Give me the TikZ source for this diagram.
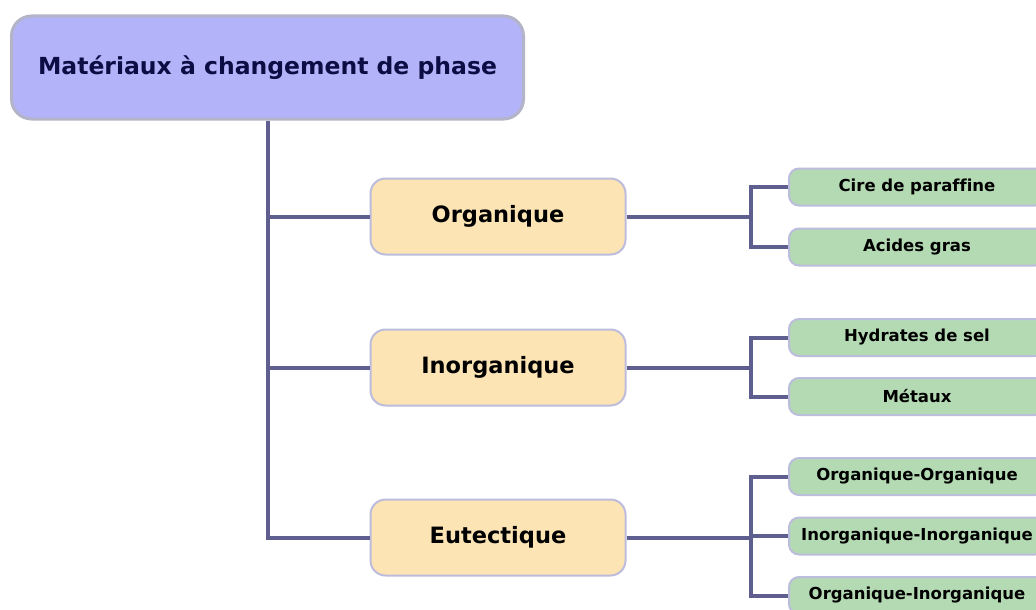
\documentclass[tikz,border=0pt]{standalone}
\usepackage{fontspec}
\setmainfont{DejaVu Sans}[Ligatures=NoCommon]
\usetikzlibrary{positioning}

\definecolor{rootfill}{HTML}{B3B3F9}
\definecolor{rootline}{HTML}{B4B4C8}
\definecolor{catfill}{HTML}{FCE4B4}
\definecolor{leaffill}{HTML}{B4DAB4}
\definecolor{boxline}{HTML}{BCBCDC}
\definecolor{linkcol}{HTML}{5F5F8F}
\definecolor{navy}{HTML}{0D0D45}

\tikzset{
  root/.style={draw=rootline, line width=3pt, fill=rootfill, rounded corners=20pt,
    minimum width=512pt, minimum height=103pt, text=navy,
    font=\bfseries\fontsize{23.5}{28}\selectfont},
  cat/.style={draw=boxline, line width=2pt, fill=catfill, rounded corners=15pt,
    minimum width=255pt, minimum height=76pt,
    font=\bfseries\fontsize{22.5}{27}\selectfont},
  leaf/.style={draw=boxline, line width=2pt, fill=leaffill, rounded corners=10pt,
    minimum width=256pt, minimum height=37pt,
    font=\bfseries\fontsize{16.5}{20}\selectfont},
  link/.style={draw=linkcol, line width=4pt}
}

\begin{document}
\begin{tikzpicture}[x=1pt,y=-1pt,node distance=60pt,on grid]
  \useasboundingbox (0,0) rectangle (1036,610);
  \node[root] (mcp) at (267.5,67.5) {Matériaux à changement de phase};
  \node[cat] (org) at (498,216.5) {Organique};
  \node[cat] (inorg) [below=151pt of org] {Inorganique};
  \node[cat] (eut) [below=170pt of inorg] {Eutectique};

  \node[leaf] (cire) at (917,187) {Cire de paraffine};
  \node[leaf] (acides) [below=60pt of cire] {Acides gras};
  \node[leaf] (hydr) at (917,337.5) {Hydrates de sel};
  \node[leaf] (metx) [below=59pt of hydr] {Métaux};
  \node[leaf] (oo) at (917,476.5) {Organique-Organique};
  \node[leaf] (ii) [below=59.5pt of oo] {Inorganique-Inorganique};
  \node[leaf] (oi) [below=59.5pt of ii] {Organique-Inorganique};

  \draw[link] (mcp.south) |- (org.west);
  \draw[link] (mcp.south) |- (inorg.west);
  \draw[link] (mcp.south) |- (eut.west);

  \draw[link] (org.east) -- ++(124,0) |- (cire.west);
  \draw[link] (org.east) -- ++(124,0) |- (acides.west);
  \draw[link] (inorg.east) -- ++(124,0) |- (hydr.west);
  \draw[link] (inorg.east) -- ++(124,0) |- (metx.west);
  \draw[link] (eut.east) -- ++(124,0) |- (oo.west);
  \draw[link] (eut.east) -- ++(124,0) |- (ii.west);
  \draw[link] (eut.east) -- ++(124,0) |- (oi.west);
\end{tikzpicture}
\end{document}
